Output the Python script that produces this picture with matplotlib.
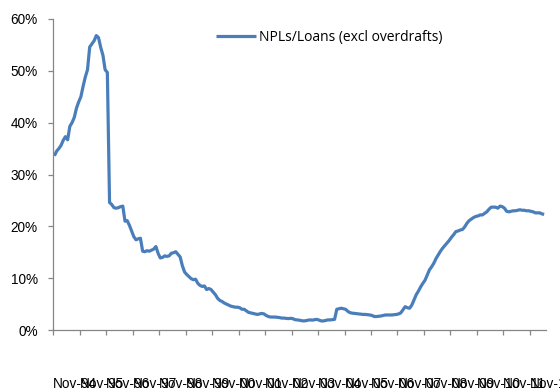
import matplotlib
matplotlib.use("Agg")
import matplotlib.pyplot as plt
from matplotlib.transforms import ScaledTranslation
from matplotlib.ticker import FuncFormatter

series_name = "NPLs/Loans (excl overdrafts)"

# Monthly NPL ratio (%), Nov-94 onwards
npl_ratio = [
    33.6, 34.5, 35.0, 35.6, 36.6, 37.3, 36.7, 39.3, 40.0, 41.0,
    42.8, 44.0, 45.0, 47.0, 48.8, 50.2, 54.6, 55.2, 55.8, 56.8,
    56.4, 54.5, 53.0, 50.2, 49.7, 24.6, 24.2, 23.6, 23.5, 23.6,
    23.8, 23.9, 21.0, 21.1, 20.2, 19.1, 18.0, 17.4, 17.6, 17.7,
    15.2, 15.1, 15.3, 15.2, 15.4, 15.6, 16.1, 14.8, 13.9, 14.0,
    14.3, 14.2, 14.3, 14.8, 14.9, 15.1, 14.6, 14.1, 12.4, 11.2,
    10.7, 10.3, 9.9, 9.7, 9.8, 9.0, 8.6, 8.4, 8.5, 7.8,
    8.0, 7.8, 7.3, 6.8, 6.1, 5.7, 5.5, 5.2, 5.0, 4.8,
    4.6, 4.5, 4.4, 4.4, 4.3, 4.0, 4.0, 3.7, 3.4, 3.3,
    3.2, 3.1, 3.0, 3.1, 3.2, 3.1, 2.8, 2.6, 2.5, 2.5,
    2.5, 2.45, 2.4, 2.3, 2.3, 2.25, 2.2, 2.25, 2.2, 2.0,
    1.95, 1.9, 1.8, 1.75, 1.8, 1.9, 1.95, 1.9, 2.0, 2.05,
    1.9, 1.75, 1.75, 1.85, 1.95, 1.95, 2.0, 2.05, 4.0, 4.1,
    4.2, 4.1, 4.0, 3.6, 3.35, 3.25, 3.2, 3.15, 3.1, 3.05,
    3.0, 3.0, 2.95, 2.9, 2.8, 2.6, 2.6, 2.65, 2.7, 2.8,
    2.9, 2.9, 2.9, 2.9, 2.95, 3.0, 3.1, 3.3, 3.9, 4.5,
    4.3, 4.2, 4.8, 5.8, 6.8, 7.5, 8.3, 9.0, 9.6, 10.6,
    11.6, 12.2, 12.9, 13.8, 14.5, 15.2, 15.8, 16.3, 16.8, 17.3,
    17.9, 18.4, 19.0, 19.1, 19.3, 19.4, 19.9, 20.6, 21.1, 21.4,
    21.7, 21.9, 22.0, 22.2, 22.2, 22.5, 22.8, 23.3, 23.7, 23.7,
    23.7, 23.5, 23.9, 23.8, 23.5, 22.9, 22.8, 22.9, 23.0, 23.0,
    23.1, 23.2, 23.1, 23.1, 23.0, 23.0, 22.9, 22.8, 22.6, 22.6,
    22.6, 22.4, 22.3,
]

tick_labels = ["Nov-%02d" % (y % 100) for y in range(1994, 2013)]
y_ticks = [0, 10, 20, 30, 40, 50, 60]

fig = plt.figure(figsize=(5.6, 3.92), dpi=100)
ax = fig.add_axes([53.3 / 560, 62 / 392, (545.7 - 53.3) / 560, (330 - 19) / 392])

months = list(range(len(npl_ratio)))
ax.plot(months, npl_ratio, color="#4A7EBB", lw=2.3, label=series_name,
        solid_joinstyle="round", solid_capstyle="butt")

ax.set_xlim(-0.5, len(npl_ratio) - 0.3)
ax.set_ylim(0, 60)
ax.set_yticks(y_ticks)
ax.yaxis.set_major_formatter(FuncFormatter(lambda v, p: "%d%%" % v))

xt = [-0.5 + 12 * i for i in range(len(tick_labels))]
ax.set_xticks(xt)
ax.set_xticklabels(tick_labels, ha="left")
off = ScaledTranslation(9.5 / 100, 0, fig.dpi_scale_trans)
for lab in ax.get_xticklabels():
    lab.set_transform(lab.get_transform() + off)

for s in ("top", "right"):
    ax.spines[s].set_visible(False)
for s in ("left", "bottom"):
    ax.spines[s].set_color("#868686")
    ax.spines[s].set_linewidth(0.9)

ax.tick_params(axis="both", direction="out", length=3.6, width=0.9, color="#868686",
               labelsize=9.8, labelcolor="#000000")
ax.tick_params(axis="y", pad=7.5)
ax.tick_params(axis="x", pad=30.5)
for lab in ax.get_xticklabels() + ax.get_yticklabels():
    lab.set_fontfamily(["Liberation Sans", "DejaVu Sans"])

leg = ax.legend(loc="upper left", bbox_to_anchor=(209 / 560, 1 - 23 / 392),
                bbox_transform=fig.transFigure, frameon=False, borderpad=0,
                handlelength=2.9, handletextpad=0.2,
                prop={"family": ["Open Sans", "DejaVu Sans"], "size": 10})

fig.savefig("out.png", dpi=100)
